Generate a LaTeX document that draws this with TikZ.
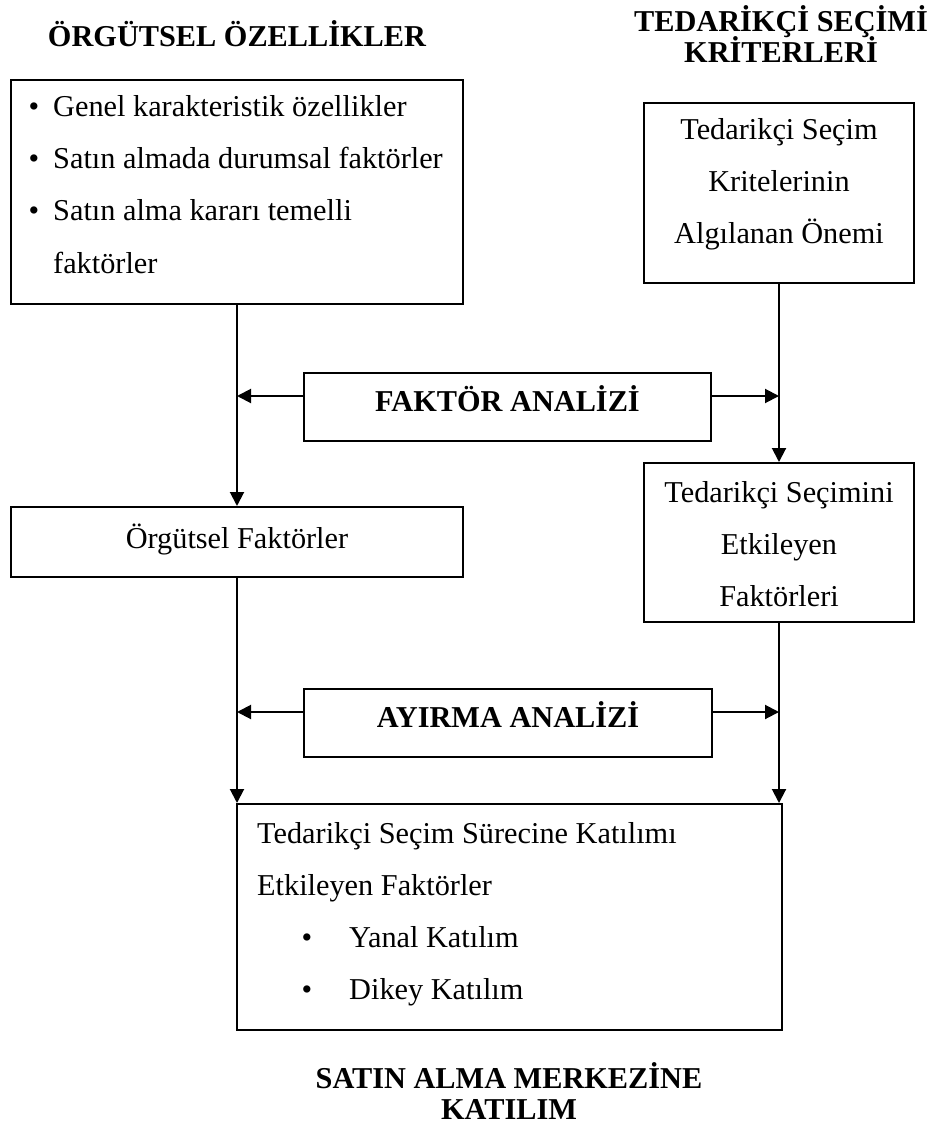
\documentclass[tikz,border=0pt]{standalone}
\usepackage{fontspec}
\setmainfont{Liberation Serif}
\usetikzlibrary{arrows.meta}
\begin{document}
\begin{tikzpicture}[x=1pt,y=1pt,
  box/.style={draw, line width=2pt, inner sep=0pt},
  txt/.style={inner sep=0pt, font=\fontsize{30.3}{36}\selectfont},
  ttl/.style={inner sep=0pt, font=\fontsize{30.3}{36}\selectfont\bfseries},
  conn/.style={line width=2pt},
  arr/.style={conn, -{Triangle[length=14pt,width=14pt]}}]
\useasboundingbox (0,0) rectangle (928,-1131);

% headings
\node[ttl, anchor=base] (t1) at (237,-47) {ÖRGÜTSEL ÖZELLİKLER};
\node[ttl, anchor=base] (t2a) at (781,-32) {TEDARİKÇİ SEÇİMİ};
\node[ttl, anchor=base] (t2b) at (781,-63) {KRİTERLERİ};
\node[ttl, anchor=base] (t3a) at (509,-1088) {SATIN ALMA MERKEZİNE};
\node[ttl, anchor=base] (t3b) at (509,-1119) {KATILIM};

% organisational characteristics
\node[box, minimum width=452pt, minimum height=224pt] (b1) at (237,-192) {};
\node[txt, anchor=base] (p1) at (34,-117) {•};
\node[txt, anchor=base west] (l1) at (53,-117) {Genel karakteristik özellikler};
\node[txt, anchor=base] (p2) at (34,-169) {•};
\node[txt, anchor=base west] (l2) at (53,-169) {Satın almada durumsal faktörler};
\node[txt, anchor=base] (p3) at (34,-221) {•};
\node[txt, anchor=base west] (l3) at (53,-221) {Satın alma kararı temelli};
\node[txt, anchor=base west] (l4) at (53,-273) {faktörler};

% supplier selection criteria
\node[box, minimum width=270pt, minimum height=180pt] (b2) at (779,-193) {};
\node[txt, anchor=base] (r1) at (779,-140) {Tedarikçi Seçim};
\node[txt, anchor=base] (r2) at (779,-192) {Kritelerinin};
\node[txt, anchor=base] (r3) at (779,-244) {Algılanan Önemi};

% factor analysis
\node[box, minimum width=407pt, minimum height=68pt] (fa) at (507.5,-407) {};
\node[ttl, anchor=base] (fat) at (507.5,-411) {FAKTÖR ANALİZİ};

% organisational factors
\node[box, minimum width=452pt, minimum height=70pt] (of) at (237,-542) {};
\node[txt, anchor=base] (oft) at (237,-548) {Örgütsel Faktörler};

% factors affecting supplier selection
\node[box, minimum width=270pt, minimum height=159pt] (ts) at (779,-542.5) {};
\node[txt, anchor=base] (ts1) at (779,-502) {Tedarikçi Seçimini};
\node[txt, anchor=base] (ts2) at (779,-554) {Etkileyen};
\node[txt, anchor=base] (ts3) at (779,-606) {Faktörleri};

% discriminant analysis
\node[box, minimum width=408pt, minimum height=68pt] (aa) at (508,-723) {};
\node[ttl, anchor=base] (aat) at (508,-727) {AYIRMA ANALİZİ};

% participation factors
\node[box, minimum width=545pt, minimum height=226pt] (bb) at (509.5,-917) {};
\node[txt, anchor=base west] (bb1) at (257,-843) {Tedarikçi Seçim Sürecine Katılımı};
\node[txt, anchor=base west] (bb2) at (257,-895) {Etkileyen Faktörler};
\node[txt, anchor=base] (q1) at (307,-947) {•};
\node[txt, anchor=base west] (bb3) at (349,-947) {Yanal Katılım};
\node[txt, anchor=base] (q2) at (307,-999) {•};
\node[txt, anchor=base west] (bb4) at (349,-999) {Dikey Katılım};

% vertical flows
\draw[arr] (b1.south) -- (b1.south |- of.north);
\draw[arr] (b2.south) -- (b2.south |- ts.north);
\draw[arr] (of.south) -- (of.south |- bb.north);
\draw[arr] (ts.south) -- (ts.south |- bb.north);

% analysis outputs
\coordinate (faL) at ([yshift=11pt]fa.west);
\coordinate (faR) at ([yshift=11pt]fa.east);
\coordinate (aaL) at ([yshift=11pt]aa.west);
\coordinate (aaR) at ([yshift=11pt]aa.east);
\draw[arr] (faL) -- (faL -| b1.south);
\draw[arr] (faR) -- (faR -| b2.south);
\draw[arr] (aaL) -- (aaL -| of.south);
\draw[arr] (aaR) -- (aaR -| ts.south);
\end{tikzpicture}
\end{document}
